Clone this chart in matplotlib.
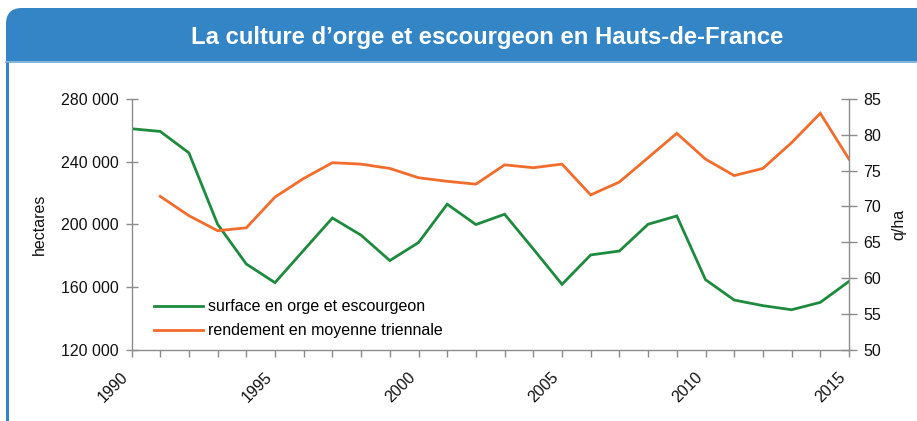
import matplotlib.pyplot as plt
import matplotlib.transforms as mtransforms
from matplotlib.patches import FancyBboxPatch, Rectangle
from matplotlib.lines import Line2D

# Chart data
years = list(range(1990, 2016))
surface_ha = [261000, 259300, 245600, 200000, 174600, 162700, 183400, 204000,
              193000, 176800, 188300, 212800, 199800, 206400, 184200, 161600,
              180400, 182900, 200000, 205300, 164600, 151600, 148000, 145400,
              150100, 163500]
rend_years = list(range(1991, 2016))
rendement_qha = [71.4, 68.7, 66.6, 67.0, 71.3, 73.9, 76.1, 75.9, 75.3, 74.0,
                 73.5, 73.1, 75.8, 75.4, 75.9, 71.6, 73.4, 76.8, 80.2, 76.6,
                 74.3, 75.3, 78.9, 83.0, 76.6]
left_ticks = [120000, 160000, 200000, 240000, 280000]
right_ticks = [50, 55, 60, 65, 70, 75, 80, 85]

title = "La culture d\u2019orge et escourgeon en Hauts-de-France"
lab_surface = "surface en orge et escourgeon"
lab_rend = "rendement en moyenne triennale"

BLUE = "#3385c6"
GREEN = "#1e8a3e"
ORANGE = "#f26c2b"
AXCOL = "#8c8c8c"

plt.rcParams['font.family'] = ['Liberation Sans', 'DejaVu Sans']

W, H = 917, 421
fig = plt.figure(figsize=(W / 100, H / 100), dpi=100)

# background frame in pixel coordinates
bg = fig.add_axes([0, 0, 1, 1], zorder=0)
bg.set_xlim(0, W)
bg.set_ylim(H, 0)
bg.axis('off')
bg.add_patch(FancyBboxPatch((6, 8), 940, 60, boxstyle="round,pad=0,rounding_size=16",
                            facecolor=BLUE, edgecolor='none'))
bg.add_patch(Rectangle((6, 35), 940, 26, facecolor=BLUE, edgecolor='none'))
bg.add_patch(Rectangle((6, 61), 940, 400, facecolor='white', edgecolor='none'))
bg.add_line(Line2D([6, 940], [62, 62], color="#6aa6d8", lw=1.2))
bg.add_patch(Rectangle((6, 62), 2.6, 400, facecolor=BLUE, edgecolor='none'))
bg.text(487.5, 37.5, title, color='white', fontsize=17.2, fontweight='bold',
        ha='center', va='center')

# main axes: x 131.5..849, y 99..349.5 (pixels)
ax = fig.add_axes([131.5 / W, (H - 349.5) / H, (849 - 131.5) / W, (349.5 - 99) / H], zorder=2)
ax.patch.set_alpha(0)
ax2 = ax.twinx()

l1, = ax.plot(years, surface_ha, color=GREEN, lw=2.0, solid_joinstyle='miter')
l2, = ax2.plot(rend_years, rendement_qha, color=ORANGE, lw=2.0, solid_joinstyle='miter')

ax.set_xlim(1990, 2015)
ax.set_ylim(120000, 280000)
ax2.set_ylim(50, 85)

ax.set_xticks(years)
ax.set_xticklabels([str(y) if y % 5 == 0 else "" for y in years],
                   rotation=45, ha='right', va='top', rotation_mode='anchor')
ax.set_yticks(left_ticks)
ax.set_yticklabels([f"{v:,}".replace(",", " ") for v in left_ticks])
ax2.set_yticks(right_ticks)

for a in (ax, ax2):
    a.spines['top'].set_visible(False)
    for s in ('left', 'right', 'bottom'):
        a.spines[s].set_color(AXCOL)
        a.spines[s].set_linewidth(1.0)
    a.tick_params(colors=AXCOL, labelcolor='#111111', labelsize=11.5, width=1.0)
ax.spines['right'].set_visible(False)
ax2.spines['left'].set_visible(False)
ax2.spines['bottom'].set_visible(False)
ax.tick_params(axis='y', direction='inout', length=9, pad=5)
ax2.tick_params(axis='y', direction='inout', length=11, pad=5)
ax.tick_params(axis='x', direction='out', length=5, pad=6)

# nudge the rotated year labels left/down like the original
shift = mtransforms.ScaledTranslation(-11 / 100, -5 / 100, fig.dpi_scale_trans)
for lbl in ax.get_xticklabels():
    lbl.set_transform(lbl.get_transform() + shift)

ax.set_ylabel("hectares", fontsize=11.5, color='#111111', labelpad=10)
ax2.set_ylabel("q/ha", fontsize=11.5, color='#111111', labelpad=7)

ax.legend([l1, l2], [lab_surface, lab_rend], loc='lower left',
          bbox_to_anchor=(0.012, -0.012), frameon=False, fontsize=11.5,
          handlelength=3.05, handletextpad=0.28, labelspacing=0.55)

fig.savefig("out.png", dpi=100)
